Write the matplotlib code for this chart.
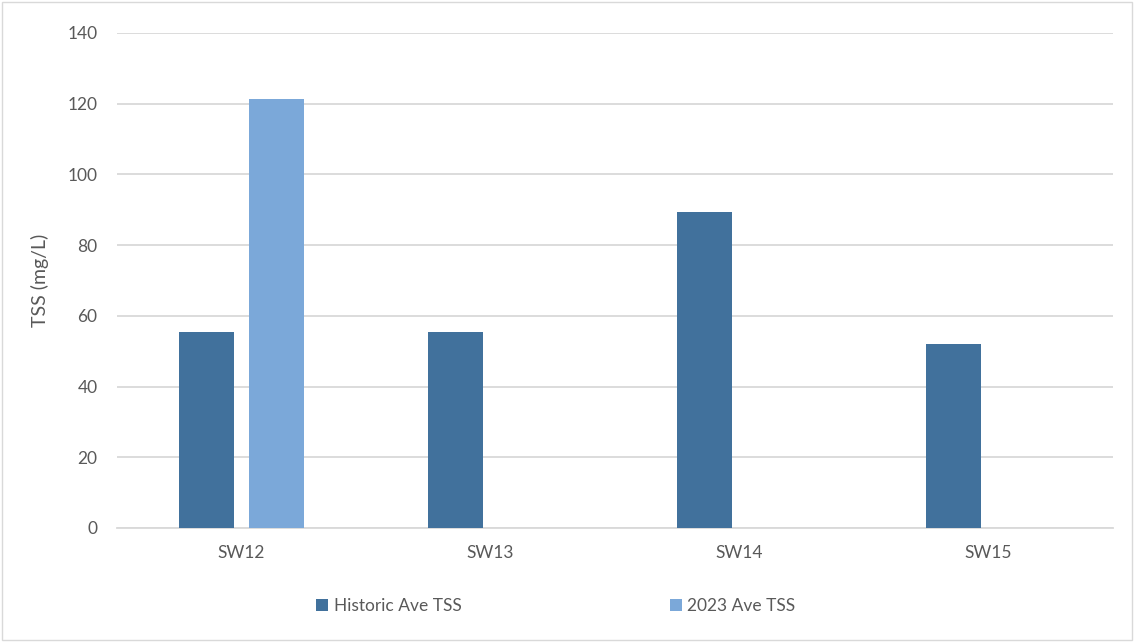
import matplotlib
matplotlib.use("Agg")
import matplotlib.pyplot as plt
import numpy as np

categories = ["SW12", "SW13", "SW14", "SW15"]
historic = [55.5, 55.5, 89.5, 52.0]
ave_2023 = [121.3, 0, 0, 0]
series_names = ["Historic Ave TSS", "2023 Ave TSS"]
yticks = [0, 20, 40, 60, 80, 100, 120, 140]

plt.rcParams['font.family'] = ['Lato', 'DejaVu Sans']
text_color = "#595959"
c_hist = "#41719C"
c_2023 = "#7BA8D9"

fig = plt.figure(figsize=(11.34, 6.42), dpi=100)
ax = fig.add_axes([0.1032, 0.1776, 0.8783, 0.771])

x = np.arange(len(categories))
w = 0.22
off = 0.142
b1 = ax.bar(x - off, historic, w, color=c_hist, label=series_names[0], zorder=3)
b2 = ax.bar(x + off, ave_2023, w, color=c_2023, label=series_names[1], zorder=3)

ax.set_xlim(-0.5, 3.5)
ax.set_ylim(0, 140)
ax.set_yticks(yticks)
ax.set_xticks(x)
ax.set_xticklabels(categories)
ax.yaxis.grid(True, color="#D9D9D9", linewidth=1.3, zorder=0)
ax.set_axisbelow(True)
for s in ["top", "right", "left"]:
    ax.spines[s].set_visible(False)
ax.spines["bottom"].set_color("#D9D9D9")
ax.spines["bottom"].set_linewidth(1.3)
ax.tick_params(axis="both", length=0, colors=text_color, labelsize=12.5)
ax.tick_params(axis="y", pad=14)
ax.tick_params(axis="x", pad=12)
ax.set_ylabel("TSS (mg/L)", color=text_color, fontsize=14, labelpad=13)

fig.legend(handles=[b1, b2], labels=series_names, loc="center",
           bbox_to_anchor=(0.490, 0.056), ncol=2, frameon=False,
           fontsize=12.5, labelcolor=text_color, columnspacing=12,
           handlelength=0.7, handleheight=0.7, handletextpad=0.3)

border = plt.Rectangle((0.002, 0.003), 0.996, 0.994, transform=fig.transFigure,
                       fill=False, edgecolor="#D9D9D9", linewidth=1)
fig.patches.append(border)

fig.savefig("out.png", dpi=100, facecolor="white")
